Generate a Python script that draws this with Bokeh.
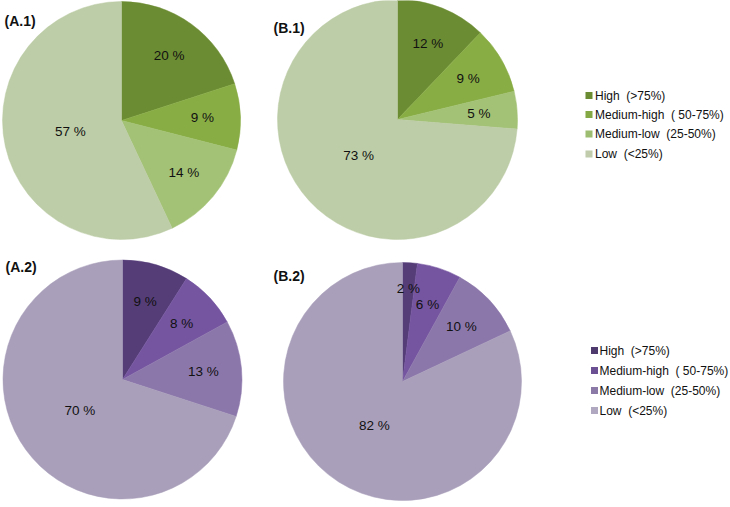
import numpy as np
from bokeh.plotting import figure
from bokeh.models import Range1d, ColumnDataSource
from bokeh.embed import file_html
from bokeh.resources import INLINE
from bokeh.core.properties import value

# ---- data ----
categories = ["High\u00a0 (>75%)", "Medium-high\u00a0 ( 50-75%)", "Medium-low\u00a0 (25-50%)", "Low\u00a0 (<25%)"]
titles = ["(A.1)", "(B.1)", "(A.2)", "(B.2)"]
a1_values = [20, 9, 14, 57]
b1_values = [12, 9, 5, 73]
a2_values = [9, 8, 13, 70]
b2_values = [2, 6, 10, 82]

green_colors = ["#6c8c33", "#89ad45", "#a3c275", "#bdcda7"]
purple_colors = ["#553d78", "#7555a0", "#8c77ab", "#a99fba"]
green_legend = ["#6c8c33", "#84a843", "#9dbd70", "#c0ccab"]
purple_legend = ["#4f3a6e", "#6c5094", "#8b7aa8", "#b0a8c0"]

W, H = 730, 507
FONT = "Liberation Sans"

p = figure(width=W, height=H, output_backend="svg", toolbar_location=None,
           x_range=Range1d(0, W), y_range=Range1d(0, H), min_border=0)
p.axis.visible = False
p.grid.visible = False
p.outline_line_color = None
p.background_fill_color = "white"


def py(iy):
    return H - iy


def pie(vals, colors, cx, cy, r, title, tx, ty):
    v = np.array(vals, dtype=float)
    frac = v / v.sum()
    cum = np.concatenate([[0.0], np.cumsum(frac)])
    start = np.pi / 2 - 2 * np.pi * cum[:-1]
    end = np.pi / 2 - 2 * np.pi * cum[1:]
    src = ColumnDataSource(dict(x=[cx] * len(v), y=[py(cy)] * len(v),
                                start=start, end=end, color=colors))
    p.wedge(x="x", y="y", radius=r, radius_units="screen", start_angle="start",
            end_angle="end", direction="clock", fill_color="color",
            line_color="color", line_width=0.5, source=src)
    mid = np.pi / 2 - 2 * np.pi * (cum[:-1] + frac / 2)
    rf = np.where(frac > 0.5, 0.44, np.where(frac < 0.04, 0.78, 0.68))
    lx = cx + rf * r * np.cos(mid)
    ly = py(cy) + rf * r * np.sin(mid)
    labels = ["%d %%" % x for x in vals]
    p.text(x=lx, y=ly, text=labels, text_align="center", text_baseline="middle",
           text_font=value(FONT), text_font_size="13.5px", text_color="#111111")
    p.text(x=[tx], y=[py(ty)], text=[title], text_align="left",
           text_baseline="middle", text_font=value(FONT), text_font_size="14px",
           text_font_style="bold", text_color="#111111")


pie(a1_values, green_colors, 121, 120, 119, titles[0], 4, 20)
pie(b1_values, green_colors, 397, 119, 120, titles[1], 273, 27)
pie(a2_values, purple_colors, 122, 379, 119.5, titles[2], 5, 266)
pie(b2_values, purple_colors, 402, 381, 119, titles[3], 273, 275.5)


def legend(colors, mx, tx, ys):
    ys = [py(y) for y in ys]
    p.rect(x=[mx] * 4, y=ys, width=7, height=7, width_units="screen",
           height_units="screen", fill_color=colors, line_color=None)
    p.text(x=[tx] * 4, y=ys, text=categories, text_align="left",
           text_baseline="middle", text_font=value(FONT), text_font_size="12px",
           text_color="#111111")


legend(green_legend, 588.5, 594.5, [95, 114, 133.5, 153.5])
legend(purple_legend, 594, 599, [350, 370, 390, 410])

open("out.html", "w").write(file_html(p, INLINE))
